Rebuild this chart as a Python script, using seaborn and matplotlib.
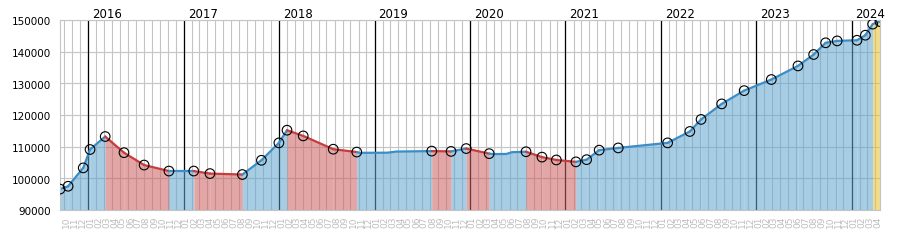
import numpy as np
import pandas as pd
import matplotlib
matplotlib.use("Agg")
import matplotlib.pyplot as plt
import matplotlib.dates as mdates
import matplotlib.transforms as mtransforms
import seaborn as sns

# ---- data -------------------------------------------------------------
obs_dates = ["2015-09-15", "2015-10-16", "2015-12-13", "2016-01-08", "2016-03-06",
             "2016-05-17", "2016-08-02", "2016-11-05", "2017-02-08", "2017-04-11",
             "2017-08-13", "2017-10-25", "2017-12-31", "2018-01-31", "2018-04-03",
             "2018-07-27", "2018-10-25", "2019-08-08", "2019-10-21", "2019-12-18",
             "2020-03-15", "2020-08-03", "2020-10-03", "2020-11-27", "2021-02-10",
             "2021-03-23", "2021-05-10", "2021-07-22", "2022-01-27", "2022-04-22",
             "2022-06-04", "2022-08-22", "2022-11-16", "2023-02-28", "2023-06-10",
             "2023-08-09", "2023-09-24", "2023-11-07", "2024-01-22", "2024-02-23",
             "2024-03-22", "2024-04-19"]
obs_values = [96600, 97500, 103300, 109100, 113200,
              108100, 104200, 102300, 102300, 101500,
              101200, 105700, 111200, 115200, 113400,
              109200, 108300, 108600, 108500, 109400,
              107800, 108400, 106700, 105800, 105200,
              105900, 108900, 109600, 111200, 114800,
              118600, 123500, 127700, 131200, 135500,
              139100, 142800, 143400, 143600, 145200,
              148700, 149500]

# line vertices without a marker
extra_dates = ["2018-11-05", "2019-02-20", "2019-03-25",
               "2020-04-01", "2020-05-20", "2020-06-10"]
extra_values = [108050, 108100, 108450,
                107650, 107700, 108250]

years = [2016, 2017, 2018, 2019, 2020, 2021, 2022, 2023, 2024]
y_ticks = [90000, 100000, 110000, 120000, 130000, 140000, 150000]
month_start = "2015-10-01"
month_end = "2024-04-01"

# ---- styling ----------------------------------------------------------
sns.set_theme(style="white")
plt.rcParams["font.family"] = ["DejaVu Sans"]

BLUE_LINE, RED_LINE = "#3a8dc6", "#c73c3c"
BLUE_FILL, RED_FILL, YEL_FILL = "#60a6cf", "#cd6060", "#e5c232"
FILL_ALPHA = 0.56
GRID = "#c4c4c4"

obs = pd.DataFrame({"date": pd.to_datetime(obs_dates), "value": obs_values, "obs": True})
ext = pd.DataFrame({"date": pd.to_datetime(extra_dates), "value": extra_values, "obs": False})
pts = pd.concat([obs, ext]).sort_values("date").reset_index(drop=True)

# build segments between consecutive observations
rows = []
seg_palette = {}
seg_fill = {}
n = len(obs)
for i in range(n - 1):
    d0, d1 = obs["date"][i], obs["date"][i + 1]
    v0, v1 = obs["value"][i], obs["value"][i + 1]
    sub = pts[(pts["date"] >= d0) & (pts["date"] <= d1)]
    if i == n - 2:
        lc, fc = BLUE_LINE, YEL_FILL
    elif v1 < v0:
        lc, fc = RED_LINE, RED_FILL
    else:
        lc, fc = BLUE_LINE, BLUE_FILL
    seg = f"s{i}"
    seg_palette[seg] = lc
    seg_fill[seg] = fc
    for d, v in zip(sub["date"], sub["value"]):
        rows.append({"date": d, "value": v, "seg": seg})
segs = pd.DataFrame(rows)

fig = plt.figure(figsize=(9, 2.5), dpi=100)
ax = fig.add_axes([60 / 900, 40 / 250, 820 / 900, 190 / 250])

ymin, ymax = y_ticks[0], y_ticks[-1]

# fills
for seg, g in segs.groupby("seg", sort=False):
    ax.fill_between(g["date"], g["value"], ymin, color=seg_fill[seg],
                    alpha=FILL_ALPHA, lw=0, zorder=1)

# lines
sns.lineplot(data=segs, x="date", y="value", hue="seg", palette=seg_palette,
             estimator=None, sort=False, legend=False, linewidth=1.6, ax=ax,
             zorder=2)

# markers
sns.scatterplot(data=obs, x="date", y="value", ax=ax, marker="o", s=48,
                facecolor="none", edgecolor="black", linewidth=0.8, zorder=3,
                legend=False)

# axes / grid
months = pd.date_range(month_start, month_end, freq="MS")
ax.set_xticks(months)
ax.set_xticklabels(months.strftime("%m"), rotation=90, fontsize=6.5, color="#bdbdbd")
ax.set_yticks(y_ticks)
ax.set_yticklabels([str(v) for v in y_ticks], fontsize=7.5, color="black")
ax.set_xlim(obs["date"].iloc[0], obs["date"].iloc[-1])
ax.set_ylim(ymin, ymax)
ax.set_xlabel("")
ax.set_ylabel("")
ax.tick_params(axis="x", length=0, pad=5)
ax.tick_params(axis="y", length=0, pad=6.5)
ax.grid(True, color=GRID, linewidth=0.8, zorder=0)
ax.set_axisbelow(True)

offset_x = mtransforms.ScaledTranslation(2.5 / 100, 0, fig.dpi_scale_trans)
for lbl in ax.get_xticklabels():
    lbl.set_transform(lbl.get_transform() + offset_x)
offset_y = mtransforms.ScaledTranslation(0, -1.5 / 100, fig.dpi_scale_trans)
for lbl in ax.get_yticklabels():
    lbl.set_transform(lbl.get_transform() + offset_y)

trans = mtransforms.blended_transform_factory(ax.transData, ax.transAxes)
year_off = mtransforms.ScaledTranslation(4 / 100, 2 / 100, fig.dpi_scale_trans)
for y in years:
    d = pd.Timestamp(f"{y}-01-01")
    ax.axvline(d, color="black", linewidth=0.9, zorder=0.6)
    ax.text(d, 1.0, str(y), transform=trans + year_off, ha="left", va="baseline",
            fontsize=8.5, color="black")

for s in ax.spines.values():
    s.set_color(GRID)
    s.set_linewidth(0.8)

fig.savefig("out.png", dpi=100)
